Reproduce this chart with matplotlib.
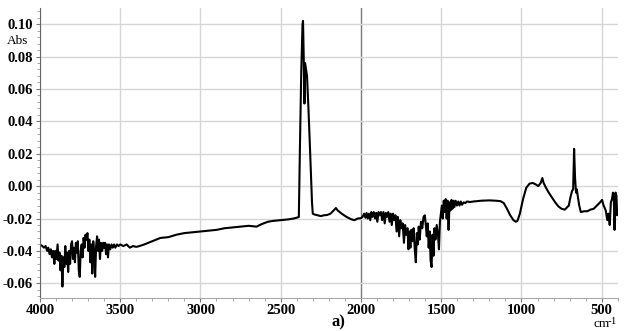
import numpy as np
import matplotlib
matplotlib.use("Agg")
import matplotlib.pyplot as plt
from matplotlib.ticker import MultipleLocator, FormatStrFormatter

# FTIR absorbance spectrum (cm-1, Abs)
wavenumber = [
    4000, 3985, 3975, 3965, 3955, 3948, 3940, 3932, 3925, 3918, 3910, 3905,
    3898, 3890, 3884, 3878, 3872, 3866, 3860, 3854, 3848, 3842, 3836, 3830,
    3824, 3818, 3812, 3806, 3800, 3794, 3788, 3782, 3776, 3770, 3764, 3758,
    3752, 3746, 3740, 3734, 3728, 3722, 3716, 3710, 3704, 3698, 3692, 3686,
    3680, 3674, 3668, 3662, 3656, 3650, 3644, 3638, 3632, 3626, 3620, 3612,
    3606, 3600, 3594, 3588, 3582, 3576, 3570, 3562, 3554, 3546, 3538, 3530,
    3520, 3510, 3500, 3480, 3460, 3440, 3420, 3400, 3380, 3350, 3300, 3250,
    3200, 3150, 3100, 3050, 3000, 2950, 2900, 2850, 2800, 2750, 2700, 2650,
    2620, 2580, 2550, 2500, 2450, 2420, 2400, 2387, 2380, 2372, 2364, 2361,
    2357, 2352, 2348, 2342, 2336, 2328, 2320, 2312, 2305, 2300, 2290, 2270,
    2250, 2230, 2210, 2190, 2175, 2165, 2156, 2145, 2120, 2090, 2060, 2040,
    2020, 2000,
    1990, 1980, 1972, 1965, 1958, 1950, 1942, 1935, 1928, 1920, 1912, 1905,
    1898, 1890, 1882, 1875, 1868, 1860, 1852, 1845, 1838, 1830, 1822, 1815,
    1808, 1800, 1792, 1785, 1778, 1770, 1762, 1755, 1748, 1740, 1732, 1725,
    1718, 1710, 1704, 1698, 1692, 1686, 1680, 1672, 1664, 1658, 1652, 1646,
    1640, 1634, 1626, 1618, 1610, 1602, 1596, 1590, 1584, 1578, 1572, 1566,
    1560, 1554, 1548, 1542, 1536, 1528, 1520, 1514, 1508, 1502, 1496, 1490,
    1484, 1478, 1472, 1466, 1460, 1454, 1448, 1442, 1436, 1430, 1424, 1418,
    1410, 1402, 1394, 1386, 1378, 1370, 1360, 1350, 1340, 1320, 1300, 1250,
    1200, 1160, 1130, 1110, 1090, 1070, 1050, 1035, 1025, 1010, 990, 970,
    950, 930, 910, 895, 880, 870, 862, 850, 830, 810, 790, 770,
    750, 730, 715, 705, 695, 685, 678, 672, 666, 660, 655, 648,
    640, 630, 610, 590, 570, 550, 530, 510, 498, 488, 475, 465,
    458, 450, 443, 436, 430, 425, 420, 414, 408, 404, 400,
]
absorbance = [
    -0.036, -0.037, -0.038, -0.037, -0.040, -0.038, -0.042, -0.039, -0.044, -0.040, -0.048, -0.040,
    -0.045, -0.036, -0.046, -0.041, -0.052, -0.043, -0.062, -0.044, -0.050, -0.037, -0.048, -0.041,
    -0.053, -0.040, -0.048, -0.036, -0.034, -0.045, -0.038, -0.047, -0.035, -0.041, -0.034, -0.052,
    -0.056, -0.040, -0.036, -0.044, -0.032, -0.038, -0.030, -0.033, -0.029, -0.040, -0.033, -0.047,
    -0.036, -0.054, -0.034, -0.041, -0.056, -0.037, -0.031, -0.040, -0.033, -0.045, -0.035, -0.040,
    -0.035, -0.038, -0.035, -0.042, -0.036, -0.044, -0.036, -0.039, -0.036, -0.038, -0.036, -0.038,
    -0.036, -0.037, -0.036, -0.037, -0.036, -0.038, -0.037, -0.0375, -0.037, -0.036, -0.034, -0.032,
    -0.0315, -0.030, -0.029, -0.0285, -0.028, -0.0275, -0.027, -0.026, -0.0255, -0.025, -0.0245, -0.025,
    -0.0235, -0.022, -0.0215, -0.021, -0.0205, -0.020, -0.0195, -0.019, 0.025, 0.070, 0.100, 0.102,
    0.082, 0.051, 0.076, 0.072, 0.068, 0.050, 0.030, 0.008, -0.010, -0.017, -0.0175, -0.018,
    -0.0185, -0.018, -0.0178, -0.017, -0.0155, -0.0145, -0.0135, -0.015, -0.017, -0.019, -0.0205, -0.021,
    -0.020, -0.0198,
    -0.019, -0.017, -0.0195, -0.0165, -0.020, -0.017, -0.021, -0.016, -0.019, -0.016, -0.020, -0.0165,
    -0.022, -0.016, -0.018, -0.016, -0.021, -0.016, -0.023, -0.0165, -0.019, -0.016, -0.022, -0.017,
    -0.024, -0.017, -0.021, -0.018, -0.028, -0.019, -0.031, -0.021, -0.026, -0.023, -0.035, -0.024,
    -0.030, -0.026, -0.039, -0.028, -0.038, -0.027, -0.034, -0.026, -0.040, -0.047, -0.029, -0.036,
    -0.025, -0.033, -0.022, -0.026, -0.019, -0.018, -0.024, -0.031, -0.023, -0.038, -0.028, -0.046,
    -0.050, -0.030, -0.043, -0.026, -0.033, -0.024, -0.030, -0.039, -0.022, -0.017, -0.012, -0.020,
    -0.009, -0.016, -0.008, -0.020, -0.009, -0.027, -0.010, -0.015, -0.0085, -0.014, -0.009, -0.013,
    -0.009, -0.012, -0.0095, -0.012, -0.0095, -0.0115, -0.010, -0.0105, -0.0095, -0.0098, -0.0095, -0.009,
    -0.0088, -0.009, -0.0093, -0.0105, -0.014, -0.018, -0.021, -0.022, -0.0215, -0.017, -0.008, -0.001,
    0.0015, 0.002, 0.001, 0.000, 0.002, 0.005, 0.002, -0.0005, -0.004, -0.007, -0.010, -0.0125,
    -0.014, -0.0145, -0.013, -0.012, -0.007, -0.003, -0.002, 0.023, 0.005, -0.004, -0.002, -0.007,
    -0.012, -0.016, -0.0155, -0.0155, -0.0145, -0.014, -0.012, -0.010, -0.0085, -0.012, -0.015, -0.021,
    -0.017, -0.024, -0.010, -0.008, -0.004, -0.006, -0.027, -0.004, -0.006, -0.018, -0.016,
]

x_ticks = [4000, 3500, 3000, 2500, 2000, 1500, 1000, 500]
y_ticks = [-0.06, -0.04, -0.02, 0.00, 0.02, 0.04, 0.06, 0.08, 0.10]

plt.rcParams["font.family"] = ["Liberation Serif", "DejaVu Serif"]

fig = plt.figure(figsize=(6.24, 3.31), dpi=100)
ax = fig.add_axes([0.064, 0.10, 0.926, 0.876])

# light grid, with the darker line at 2000 cm-1
for xv in x_ticks:
    col = "#7a7a7a" if xv == 2000 else "#d6d6d6"
    ax.axvline(xv, color=col, lw=1.0, zorder=0)
for yv in y_ticks:
    ax.axhline(yv, color="#d6d6d6", lw=1.0, zorder=0)

ax.plot(wavenumber, absorbance, color="black", lw=1.5, zorder=2)

ax.set_xlim(4000, 400)
ax.set_ylim(-0.069, 0.11)
ax.set_xticks(x_ticks)
ax.set_yticks(y_ticks)
ax.xaxis.set_minor_locator(MultipleLocator(100))
ax.yaxis.set_minor_locator(MultipleLocator(0.004))
ax.yaxis.set_major_formatter(FormatStrFormatter("%.2f"))
ax.tick_params(axis="both", which="major", direction="out", length=3, width=0.8,
               color="#777777", labelsize=10.5, pad=2)
ax.tick_params(axis="x", which="major", pad=1.5)
ax.tick_params(axis="both", which="minor", direction="out", length=2, width=0.6,
               color="#999999")
for lab in ax.get_xticklabels() + ax.get_yticklabels():
    lab.set_fontweight("bold")

for side in ["top", "right"]:
    ax.spines[side].set_visible(False)
ax.spines["left"].set_color("#666666")
ax.spines["bottom"].set_color("#aaaaaa")

fig.text(0.011, 1 - 44 / 331, "Abs", fontsize=9.5, va="baseline")
fig.text(593 / 624, 1 - 327 / 331, "cm", fontsize=9.5, va="baseline")
fig.text(608 / 624, 1 - 324 / 331, "-1", fontsize=8, va="baseline")
fig.text(332 / 624, 1 - 326 / 331, "a)", fontsize=12, fontweight="bold", va="baseline")

fig.savefig("out.png", dpi=100)
